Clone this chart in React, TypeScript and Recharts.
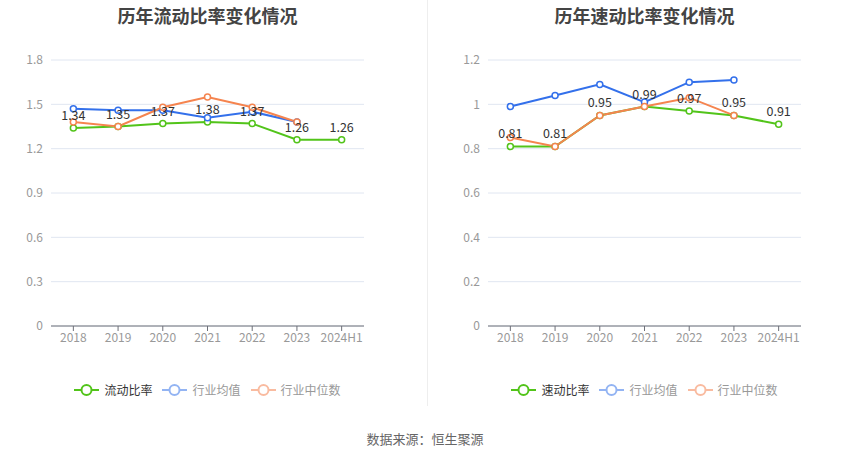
import React from "react";
import { LineChart, Line, XAxis, YAxis, CartesianGrid, LabelList } from "recharts";

const years = ["2018", "2019", "2020", "2021", "2022", "2023", "2024H1"];

// 流动比率
const currentRatio = [1.34, 1.35, 1.37, 1.38, 1.37, 1.26, 1.26];
const currentAvg = [1.47, 1.46, 1.46, 1.41, 1.45, 1.38, null];
const currentMedian = [1.38, 1.35, 1.48, 1.55, 1.48, 1.38, null];
const currentTicks = [0, 0.3, 0.6, 0.9, 1.2, 1.5, 1.8];

// 速动比率
const quickRatio = [0.81, 0.81, 0.95, 0.99, 0.97, 0.95, 0.91];
const quickAvg = [0.99, 1.04, 1.09, 1.01, 1.1, 1.11, null];
const quickMedian = [0.85, 0.81, 0.95, 0.99, 1.03, 0.95, null];
const quickTicks = [0, 0.2, 0.4, 0.6, 0.8, 1, 1.2];

const GREEN = "#52c41a";
const BLUE = "#3370eb";
const ORANGE = "#f5844f";
const FONT = "'Noto Sans CJK SC', 'Noto Sans', sans-serif";

type ChartProps = {
  title: string;
  name: string;
  main: number[];
  avg: (number | null)[];
  median: (number | null)[];
  ticks: number[];
  left: number;
  yWidth: number;
  rightMargin: number;
};

function RatioChart(p: ChartProps) {
  const data = years.map((y, i) => ({
    year: y,
    main: p.main[i],
    avg: p.avg[i],
    median: p.median[i],
  }));
  const dot = { r: 3, fill: "#fff", strokeWidth: 1.5 };
  const legend = [
    { label: p.name, color: GREEN, text: "#333" },
    { label: "行业均值", color: "#93b4f3", text: "#999" },
    { label: "行业中位数", color: "#f9bba0", text: "#999" },
  ];
  const plotCenter = p.yWidth + (425 - p.yWidth - p.rightMargin) / 2;
  return (
    <div style={{ position: "absolute", left: p.left, top: 0, width: 425, height: 459 }}>
      <div
        style={{
          position: "absolute",
          left: plotCenter - 150,
          width: 300,
          top: 2,
          textAlign: "center",
          fontSize: 18,
          fontWeight: "bold",
          color: "#444",
          fontFamily: FONT,
        }}
      >
        {p.title}
      </div>
      <LineChart
        width={425}
        height={360}
        data={data}
        margin={{ top: 60, right: p.rightMargin, left: 0, bottom: 0 }}
        style={{ fontFamily: FONT }}
      >
        <CartesianGrid vertical={false} stroke="#e0e6f1" />
        <XAxis
          dataKey="year"
          scale="band"
          height={34}
          stroke="#6e7079"
          tickSize={5}
          tick={{ fontSize: 12, fill: "#999" }}
          interval={0}
        />
        <YAxis
          width={p.yWidth}
          domain={[p.ticks[0], p.ticks[p.ticks.length - 1]]}
          ticks={p.ticks}
          axisLine={false}
          tickLine={false}
          tick={{ fontSize: 12, fill: "#999" }}
        />
        <Line dataKey="main" stroke={GREEN} strokeWidth={2} dot={dot} activeDot={false} isAnimationActive={false} />
        <Line dataKey="avg" stroke={BLUE} strokeWidth={2} dot={dot} activeDot={false} isAnimationActive={false} />
        <Line dataKey="median" stroke={ORANGE} strokeWidth={2} dot={dot} activeDot={false} isAnimationActive={false} />
        <Line dataKey="main" stroke="none" dot={false} activeDot={false} isAnimationActive={false}>
          <LabelList dataKey="main" position="top" offset={8} fill="#333" fontSize={12.5} />
        </Line>
      </LineChart>
      <div
        style={{
          position: "absolute",
          top: 381,
          left: plotCenter - 135,
          width: 270,
          display: "flex",
          justifyContent: "center",
          gap: 10,
          fontFamily: FONT,
          fontSize: 12,
        }}
      >
        {legend.map((l) => (
          <div key={l.label} style={{ display: "flex", alignItems: "center", gap: 5 }}>
            <svg width={25} height={14}>
              <line x1={0} y1={7} x2={25} y2={7} stroke={l.color} strokeWidth={2} />
              <circle cx={12.5} cy={7} r={5} fill="#fff" stroke={l.color} strokeWidth={2} />
            </svg>
            <span style={{ color: l.text }}>{l.label}</span>
          </div>
        ))}
      </div>
    </div>
  );
}

export default function App() {
  return (
    <div style={{ position: "absolute", left: 0, top: 0, width: 850, height: 459, background: "#fff" }}>
      <RatioChart
        title="历年流动比率变化情况"
        name="流动比率"
        main={currentRatio}
        avg={currentAvg}
        median={currentMedian}
        ticks={currentTicks}
        left={0}
        yWidth={51}
        rightMargin={61}
      />
      <RatioChart
        title="历年速动比率变化情况"
        name="速动比率"
        main={quickRatio}
        avg={quickAvg}
        median={quickMedian}
        ticks={quickTicks}
        left={425}
        yWidth={63}
        rightMargin={49}
      />
      <div style={{ position: "absolute", left: 427, top: 0, width: 1, height: 406, background: "#eee" }} />
      <div
        style={{
          position: "absolute",
          top: 429,
          left: 0,
          width: 850,
          textAlign: "center",
          fontSize: 13,
          color: "#666",
          fontFamily: FONT,
        }}
      >
        数据来源：恒生聚源
      </div>
    </div>
  );
}
